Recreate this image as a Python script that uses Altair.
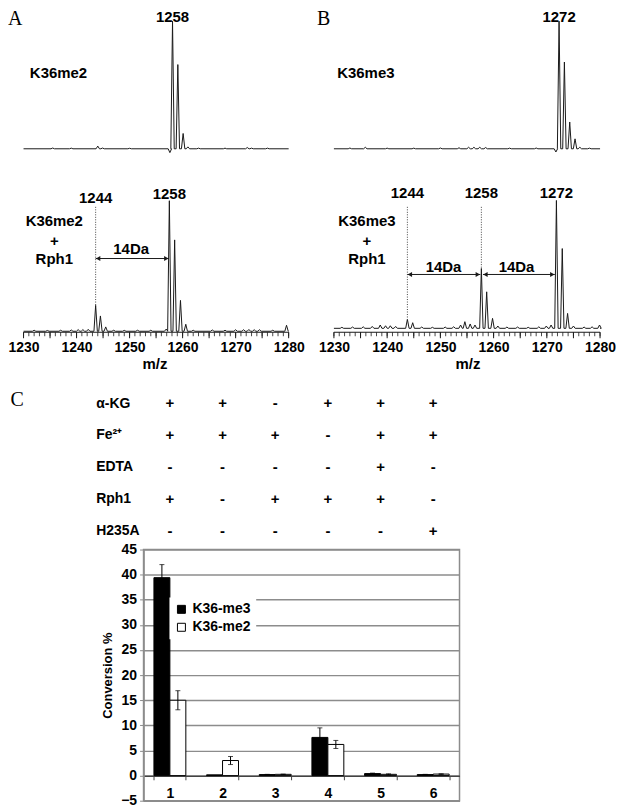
import altair as alt
import pandas as pd

# ================= DATA =================
# Panel A - K36me2 alone (upper trace): peak m/z and relative intensity
A_top_mz = [1235.5, 1239.0, 1244.0, 1244.9, 1250.0, 1257.6, 1258.1, 1259.1, 1260.1,
            1261.0, 1263.0, 1268.0, 1272.2, 1273.0, 1276.0]
A_top_int = [0.6, 0.5, 2.1, 0.6, 0.4, -3.0, 100, 66, 12, 1.5, 0.5, 0.5, 1.0, 0.5, 0.5]
# Panel A - K36me2 + Rph1 (lower trace)
A_bot_mz = [1232.0, 1234.5, 1237.0, 1239.0, 1240.3, 1241.2, 1242.2, 1243.6, 1244.5, 1245.5,
            1247.0, 1249.0, 1251.5, 1254.0, 1256.9, 1257.5, 1258.5, 1259.6, 1260.6, 1262.0,
            1265.6, 1268.0, 1270.0, 1271.5, 1272.5, 1273.5, 1274.5, 1277.0, 1279.6]
A_bot_int = [0.8, 0.6, 0.8, 1.0, 1.3, 1.3, 1.5, 20.3, 12.0, 3.4,
             0.8, 0.7, 0.8, 0.8, 1.7, 102.3, 71.6, 24.2, 5.5, 0.8,
             1.0, 0.8, 1.2, 1.2, 1.4, 1.2, 1.2, 0.8, 4.7]
# Panel B - K36me3 alone (upper trace)
B_top_mz = [1233.0, 1235.9, 1240.0, 1245.0, 1250.0, 1253.5, 1255.3, 1256.3, 1257.4, 1258.5,
            1263.0, 1268.0, 1271.7, 1272.3, 1273.3, 1274.3, 1275.3, 1276.2, 1278.0]
B_top_int = [0.6, 1.2, 0.5, 0.5, 0.6, 0.8, 1.2, 1.2, 1.2, 1.0,
             0.5, 0.6, -2.5, 100, 68, 21, 7.8, 1.2, 0.5]
# Panel B - K36me3 + Rph1 (lower trace)
B_bot_mz = [1231.5, 1233.5, 1235.5, 1237.2, 1238.7, 1239.7, 1240.6, 1241.6, 1243.8, 1244.8,
            1246.5, 1248.5, 1250.9, 1252.5, 1253.8, 1254.6, 1255.6, 1256.5, 1257.7, 1258.7,
            1259.8, 1260.8, 1262.5, 1264.5, 1266.5, 1268.5, 1269.9, 1270.8, 1271.8, 1272.9,
            1273.9, 1275.0, 1277.0, 1278.5, 1279.9]
B_bot_int = [0.8, 1.0, 1.2, 1.5, 2.6, 2.0, 2.0, 1.5, 7.0, 4.4,
             1.0, 0.8, 1.0, 1.2, 2.6, 5.2, 3.4, 2.6, 46.9, 28.6,
             7.8, 1.8, 1.0, 1.0, 0.8, 1.2, 1.8, 2.6, 100.2, 62.5,
             11.7, 1.8, 1.0, 1.2, 2.6]
mz_ticks_major = [1230, 1240, 1250, 1260, 1270, 1280]

# Panel C - reaction conditions
lanes = ["1", "2", "3", "4", "5", "6"]
conditions = ["α-KG", "Fe²⁺", "EDTA", "Rph1", "H235A"]
alpha_kg = ["+", "+", "-", "+", "+", "+"]
fe2 = ["+", "+", "+", "-", "+", "+"]
edta = ["-", "-", "-", "-", "+", "-"]
rph1 = ["+", "-", "+", "+", "+", "-"]
h235a = ["-", "-", "-", "-", "-", "+"]

# Panel C - conversion %
series = ["K36-me3", "K36-me2"]
me3_vals = [39.4, 0.15, 0.2, 7.6, 0.4, 0.2]
me3_err = [2.6, 0.0, 0.05, 1.9, 0.1, 0.05]
me2_vals = [15.0, 3.0, 0.25, 6.2, 0.25, 0.3]
me2_err = [1.9, 0.8, 0.05, 0.8, 0.1, 0.05]

# ================= STYLE / LAYOUT =================
FONT = "Liberation Sans"
SERIF = "Liberation Serif"
INK = "#1a1a1a"
GRID = "#8c8c8c"
SPEC_H = 324
Y_DOM = [-0.78, 252.3]
TOP_BASE = 143.0
B_BOT_BASE = 2.3
PEAK_HALF_WIDTH = 0.32


def build_trace(mz, inten, offset, name):
    xs, ys = [1230.0], [offset]
    for m, h in zip(mz, inten):
        xs += [m - PEAK_HALF_WIDTH, m, m + PEAK_HALF_WIDTH]
        ys += [offset, offset + h, offset]
    xs.append(1280.0)
    ys.append(offset)
    return pd.DataFrame({"mz": xs, "y": ys, "i": list(range(len(xs))), "trace": name})


def panel(width, xdom, traces, P):
    xs = alt.Scale(domain=xdom, nice=False, zero=False)
    ys = alt.Scale(domain=Y_DOM, nice=False, zero=False)
    xaxis = alt.Axis(values=mz_ticks_major, format="d", ticks=False, tickSize=0, domain=False,
                     grid=False, labelFont=FONT, labelFontSize=14, labelFontWeight="bold",
                     labelColor="black", labelPadding=8, labelFlush=False, labelOverlap=False,
                     title="m/z", titleFont=FONT, titleFontSize=15, titleFontWeight="bold",
                     titleColor="black", titleX=P["title_x"], titleY=31,
                     titleBaseline="middle", titleAlign="center")

    def X(f):
        return alt.X(f, type="quantitative", scale=xs, axis=xaxis)

    def Y(f):
        return alt.Y(f, type="quantitative", scale=ys, axis=None)

    lines = alt.Chart(traces).mark_line(color=INK, strokeWidth=1).encode(
        x=X("mz"), y=Y("y"), detail="trace:N", order="i:Q")

    ax_df = pd.DataFrame({"a": [1230], "b": [1280]})
    axis_line = alt.Chart(ax_df).mark_rule(color=INK, strokeWidth=1).encode(
        x=X("a"), x2="b:Q", y=alt.value(SPEC_H))
    tick_df = pd.DataFrame({"mz": list(range(1230, 1281))})
    minor = alt.Chart(tick_df).mark_rule(color=INK, strokeWidth=0.8).encode(
        x=X("mz"), y=alt.value(SPEC_H), y2=alt.value(SPEC_H + 4))
    major = alt.Chart(tick_df).transform_filter("datum.mz % 5 === 0").mark_rule(
        color=INK, strokeWidth=1).encode(x=X("mz"), y=alt.value(SPEC_H), y2=alt.value(SPEC_H + 6))

    dot_df = pd.DataFrame(P["dotted"], columns=["x", "y1", "y2"])
    dotted = alt.Chart(dot_df).mark_rule(color="#444", strokeWidth=1, strokeDash=[1, 1.5]).encode(
        x=X("x"), y=Y("y1"), y2="y2:Q")

    arr_df = pd.DataFrame(P["arrows"], columns=["x1", "x2", "y"])
    arr = alt.Chart(arr_df).mark_rule(color=INK, strokeWidth=1).encode(
        x=X("x1"), x2="x2:Q", y=Y("y"))
    head_l = alt.Chart(arr_df).mark_point(shape="triangle-left", filled=True, size=26,
                                          color=INK, opacity=1).encode(
        x=X("x1"), y=Y("y"), xOffset=alt.value(2.5))
    head_r = alt.Chart(arr_df).mark_point(shape="triangle-right", filled=True, size=26,
                                          color=INK, opacity=1).encode(
        x=X("x2"), y=Y("y"), xOffset=alt.value(-2.5))

    lab_df = pd.DataFrame(P["labels"], columns=["x", "y", "t"])
    labels = alt.Chart(lab_df).mark_text(font=FONT, fontSize=15, fontWeight="bold",
                                         color="black", baseline="middle", align="center").encode(
        x=X("x"), y=Y("y"), text="t:N")

    let_df = pd.DataFrame({"t": [P["letter"]]})
    letter = alt.Chart(let_df).mark_text(font=SERIF, fontSize=20, align="left", baseline="top",
                                         color="black").encode(
        x=alt.value(P["letter_px"]), y=alt.value(0), text="t:N")

    return alt.layer(lines, axis_line, minor, major, dotted, arr, head_l, head_r,
                     labels, letter).properties(width=width, height=SPEC_H)


A_traces = pd.concat([build_trace(A_top_mz, A_top_int, TOP_BASE, "top"),
                      build_trace(A_bot_mz, A_bot_int, 0.0, "bottom")])
B_traces = pd.concat([build_trace(B_top_mz, B_top_int, TOP_BASE, "top"),
                      build_trace(B_bot_mz, B_bot_int, B_BOT_BASE, "bottom")])

PA = {
    "title_x": 147, "letter": "A", "letter_px": 0,
    "labels": [(1258.1, 246.2, "1258"), (1236.6, 202.3, "K36me2"),
               (1243.6, 104.7, "1244"), (1257.5, 107.8, "1258"),
               (1235.8, 86.7, "K36me2"), (1235.8, 71.1, "+"), (1235.8, 57.0, "Rph1"),
               (1250.3, 64.8, "14Da")],
    "dotted": [(1243.6, 97.5, 20.3)],
    "arrows": [(1243.6, 1257.4, 57.0)],
}
PB = {
    "title_x": 159, "letter": "B", "letter_px": 8,
    "labels": [(1272.3, 246.2, "1272"), (1236.0, 202.3, "K36me3"),
               (1243.8, 108.6, "1244"), (1257.7, 108.6, "1258"), (1271.8, 108.6, "1272"),
               (1236.2, 86.7, "K36me3"), (1236.2, 71.1, "+"), (1236.2, 57.0, "Rph1"),
               (1250.6, 50.0, "14Da"), (1264.3, 50.0, "14Da")],
    "dotted": [(1243.8, 97.5, 9.3), (1257.7, 97.5, 49.2)],
    "arrows": [(1243.8, 1257.5, 44.5), (1258.0, 1271.5, 44.5)],
}

panel_A = panel(302, [1227.07, 1283.84], A_traces, PA)
panel_B = panel(306, [1225.32, 1282.62], B_traces, PB)

# ---------- Panel C table ----------
C_W = 317
LEFT_EXT = 134
xband = alt.Scale(domain=lanes, paddingInner=0.394, paddingOuter=0.197)
rows = []
for cond, signs in zip(conditions, [alpha_kg, fe2, edta, rph1, h235a]):
    for lane, s in zip(lanes, signs):
        rows.append({"lane": lane, "cond": cond, "sign": s})
table_df = pd.DataFrame(rows)

table = alt.Chart(table_df).mark_text(font=FONT, fontSize=15, fontWeight="bold",
                                      color="black").encode(
    x=alt.X("lane:N", scale=xband, axis=None),
    y=alt.Y("cond:N", scale=alt.Scale(type="point", domain=conditions, range=[16, 144],
                                      padding=0),
            axis=alt.Axis(domain=False, ticks=False, tickSize=0, grid=False,
                          labelAlign="left", labelPadding=48, labelFont=FONT,
                          labelFontSize=14, labelFontWeight="bold", labelColor="black",
                          title="C", titleFont=SERIF, titleFontSize=20,
                          titleFontWeight="normal", titleColor="black", titleAngle=0,
                          titleAlign="left", titleBaseline="middle",
                          titleX=-LEFT_EXT, titleY=12)),
    text="sign:N",
).properties(width=C_W, height=153)

# ---------- Panel C bars ----------
bar_df = pd.DataFrame({
    "lane": lanes * 2,
    "series": [series[0]] * 6 + [series[1]] * 6,
    "value": me3_vals + me2_vals,
    "err": me3_err + me2_err,
})
bar_df["lo"] = bar_df["value"] - bar_df["err"]
bar_df["hi"] = bar_df["value"] + bar_df["err"]
err_df = bar_df[bar_df["err"] > 0]

xoff = alt.XOffset("series:N", scale=alt.Scale(domain=series))
x_axis_bar = alt.Axis(orient="bottom", offset=-25, tickBand="extent", tickSize=4,
                      tickColor="#444", domainColor="#444", domainWidth=1.5,
                      labelAngle=0, labelFont=FONT, labelFontSize=14,
                      labelFontWeight="bold", labelColor="black", labelPadding=7,
                      grid=False, title=None)
yscale = alt.Scale(domain=[-5, 45], nice=False)
y_axis_bar = alt.Axis(values=list(range(-5, 50, 5)), grid=True, gridColor=GRID,
                      gridWidth=1.5, domainColor=GRID, domainWidth=1.5,
                      tickColor=GRID, tickSize=4, labelFont=FONT, labelFontSize=14,
                      labelFontWeight="bold", labelColor="black", labelPadding=3,
                      labelOverlap=False, minExtent=LEFT_EXT,
                      title="Conversion %", titleFont=FONT, titleFontSize=13,
                      titleFontWeight="bold", titleColor="black", titleAngle=270,
                      titleAlign="center", titleBaseline="middle",
                      titleX=-36, titleY=126)


def XB():
    return alt.X("lane:N", scale=xband, axis=x_axis_bar)


def YB(f):
    return alt.Y(f, type="quantitative", scale=yscale, axis=y_axis_bar)


bars = alt.Chart(bar_df).mark_bar(stroke="black", strokeWidth=1).encode(
    x=XB(), xOffset=xoff, y=YB("value"),
    fill=alt.Fill("series:N", scale=alt.Scale(domain=series, range=["black", "white"]),
                  legend=alt.Legend(title=None, orient="none", legendX=162, legendY=590,
                                    fillColor="white", padding=5, symbolType="square",
                                    symbolSize=64, symbolStrokeColor="black",
                                    symbolStrokeWidth=1, labelFont=FONT, labelFontSize=14,
                                    labelFontWeight="bold", labelColor="black",
                                    rowPadding=4, labelOffset=4)),
)
err_rule = alt.Chart(err_df).mark_rule(color="black", strokeWidth=1).encode(
    x=XB(), xOffset=xoff, y=YB("lo"), y2="hi:Q")
err_caps = alt.Chart(err_df).transform_fold(["lo", "hi"], as_=["k", "v"]).mark_tick(
    color="black", thickness=1, size=5).encode(
    x=XB(), xOffset=xoff, y=YB("v"))

bar_chart = alt.layer(bars, err_rule, err_caps).properties(
    width=C_W, height=252, view=alt.ViewBackground(stroke=GRID, strokeWidth=1.5))

spacer = alt.Chart(pd.DataFrame({"s": [0]})).mark_point(
    size=0, strokeWidth=0, opacity=0, filled=True).encode(
    x=alt.value(0), y=alt.value(0)).properties(width=1, height=1)

top = alt.hconcat(panel_A, panel_B, spacing=0)
bottom = alt.hconcat(spacer, alt.vconcat(table, bar_chart, spacing=2), spacing=0)
chart = alt.vconcat(top, bottom, spacing=16).properties(
    padding=0, background="white").configure_view(stroke=None)

chart.save("out.html", embed_options={"renderer": "svg", "actions": False})
